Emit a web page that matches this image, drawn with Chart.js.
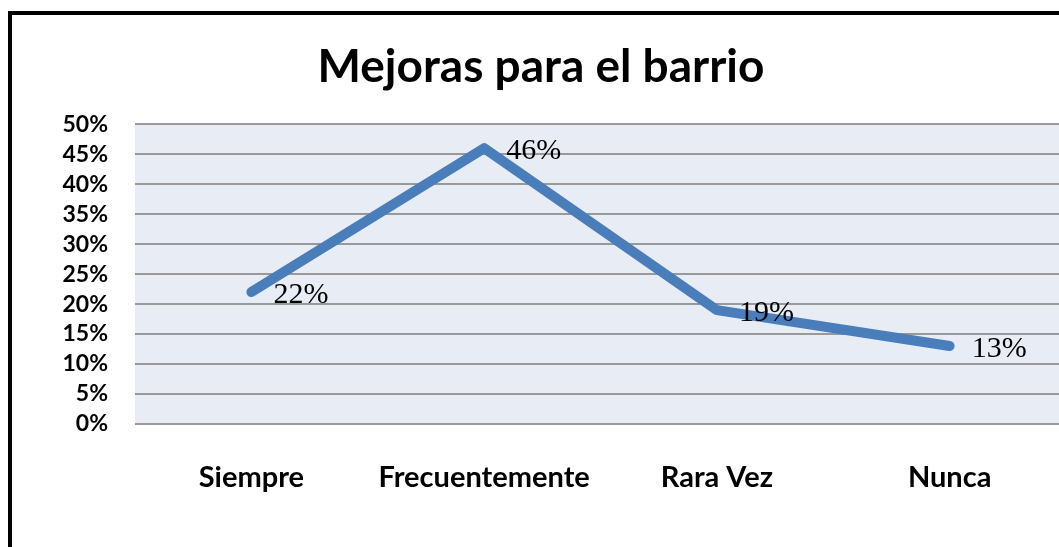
<!DOCTYPE html>
<html>
<head>
<meta charset="utf-8">
<script src="https://cdn.jsdelivr.net/npm/chart.js@4/dist/chart.umd.min.js"></script>
<style>
  html, body { margin: 0; padding: 0; background: #fff; overflow: hidden; width: 1059px; height: 547px; }
  #frame { position: absolute; left: 8px; top: 11px; width: 1100px; height: 600px; border: 4px solid #000; box-sizing: border-box; }
  #wrap { position: absolute; left: 0; top: 0; width: 1082px; height: 547px; }
</style>
</head>
<body>
<div id="frame"></div>
<div id="wrap"><canvas id="chart" width="1082" height="547"></canvas></div>
<script>
// Data
const categories = ['Siempre', 'Frecuentemente', 'Rara Vez', 'Nunca'];
const values = [0.22, 0.46, 0.19, 0.13];
const valueLabels = ['22%', '46%', '19%', '13%'];
const yTickLabels = ['0%', '5%', '10%', '15%', '20%', '25%', '30%', '35%', '40%', '45%', '50%'];

// plot background
const plotBg = {
    id: 'plotBg',
    beforeDraw(chart) {
        const { ctx, chartArea: a } = chart;
        ctx.save();
        ctx.fillStyle = '#E8ECF4';
        ctx.fillRect(a.left, a.top, a.right - a.left, a.bottom - a.top);
        ctx.restore();
    }
};

// value labels to the right of each point
const valueText = {
    id: 'valueText',
    afterDatasetsDraw(chart) {
        const ctx = chart.ctx;
        const meta = chart.getDatasetMeta(0);
        ctx.save();
        ctx.font = '30px "Liberation Serif", "Times New Roman", serif';
        ctx.fillStyle = '#000';
        ctx.textBaseline = 'middle';
        ctx.textAlign = 'left';
        meta.data.forEach((pt, i) => {
            ctx.fillText(valueLabels[i], pt.x + 22, pt.y + 3);
        });
        ctx.restore();
    }
};

new Chart(document.getElementById('chart'), {
    type: 'line',
    data: {
        labels: categories,
        datasets: [{
            data: values,
            borderColor: '#4A7EBB',
            borderWidth: 10,
            borderCapStyle: 'round',
            borderJoinStyle: 'round',
            pointRadius: 0,
            tension: 0
        }]
    },
    options: {
        responsive: false,
        animation: false,
        layout: { padding: { left: 16, right: 16, top: 0, bottom: 0 } },
        plugins: {
            legend: { display: false },
            tooltip: { enabled: false },
            title: {
                display: true,
                text: 'Mejoras para el barrio',
                color: '#000',
                font: { family: 'Lato', size: 46, weight: 'bold', lineHeight: 1.2 },
                padding: { top: 40, bottom: 29 }
            }
        },
        scales: {
            x: {
                offset: true,
                grid: { display: false },
                border: { display: false },
                ticks: {
                    color: '#000',
                    padding: 28,
                    font: { family: 'Lato', size: 29, weight: 'bold' }
                },
                afterFit(axis) { axis.height = 123; }
            },
            y: {
                min: 0,
                max: 0.5,
                border: { display: false },
                grid: { color: '#999999', lineWidth: 2, drawTicks: false },
                ticks: {
                    stepSize: 0.05,
                    autoSkip: false,
                    color: '#000',
                    padding: 27,
                    font: { family: 'Lato', size: 23, weight: 'bold' },
                    callback: (v, i) => yTickLabels[i]
                },
                afterFit(axis) { axis.width = 119; }
            }
        }
    },
    plugins: [plotBg, valueText]
});
</script>
</body>
</html>
